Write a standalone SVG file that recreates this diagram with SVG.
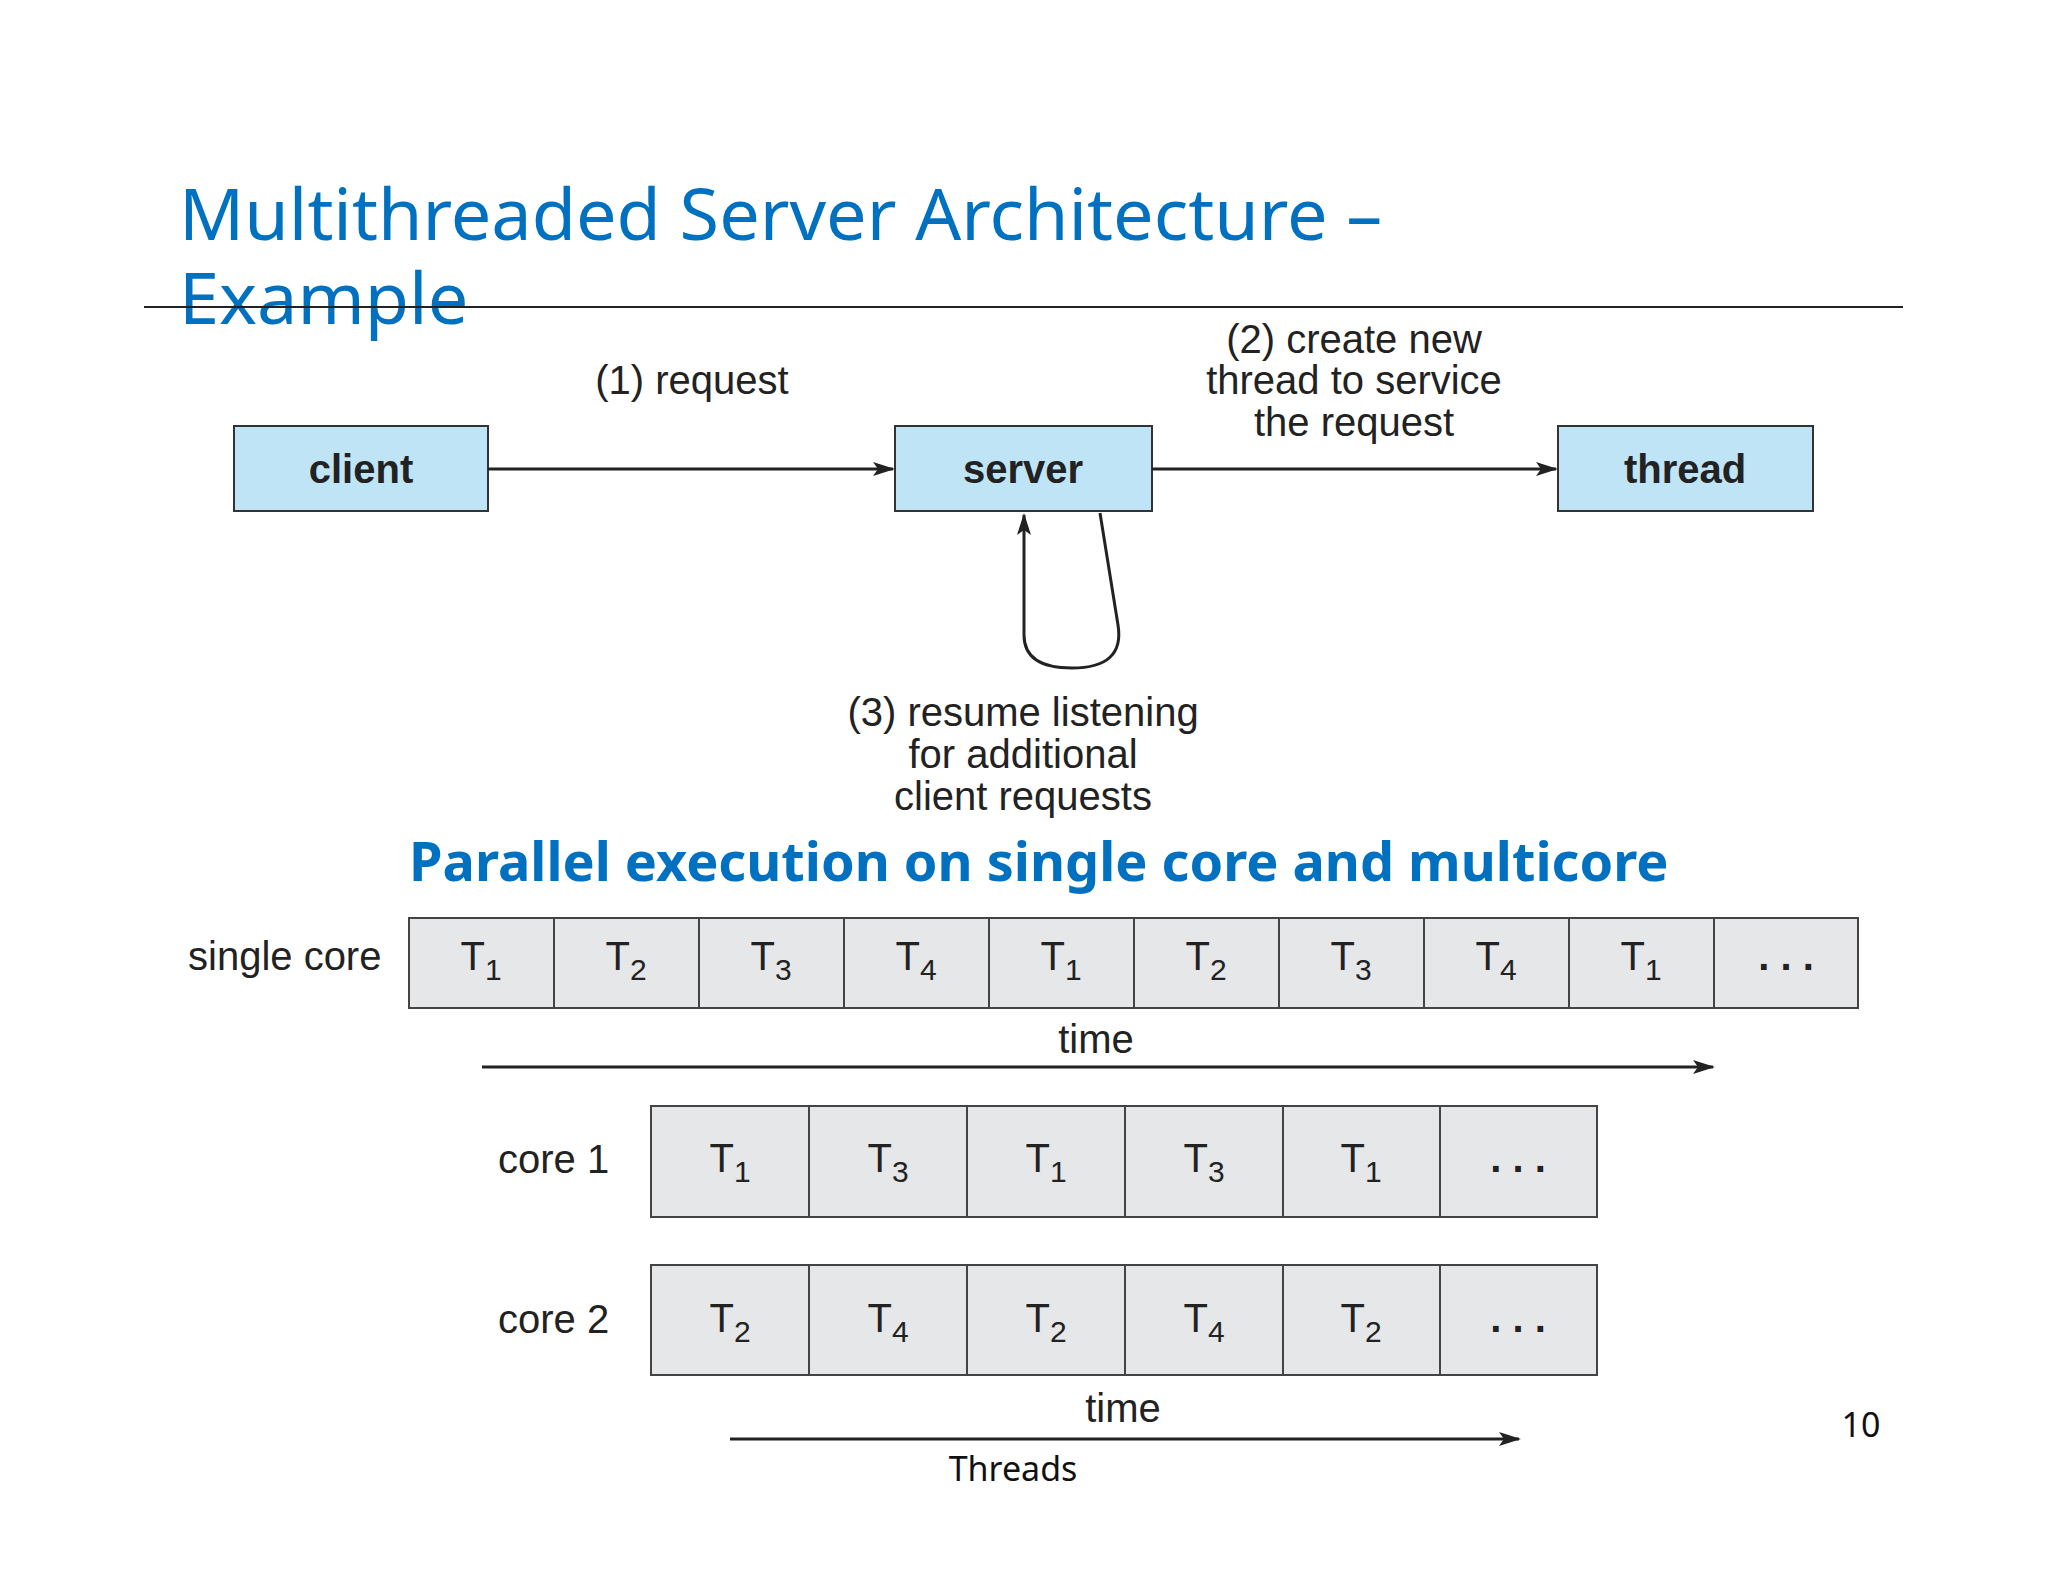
<svg xmlns="http://www.w3.org/2000/svg" width="2048" height="1582" viewBox="0 0 2048 1582">
<style>
.ttl{font-family:"Noto Sans","Open Sans",sans-serif;fill:#0070c0}
.lb{font-family:"Liberation Sans",Arial,sans-serif;fill:#222;font-size:40px}
.bx{fill:#bfe4f6;stroke:#333;stroke-width:2}
.bt{font-family:"Liberation Sans",Arial,sans-serif;font-weight:bold;font-size:40px;fill:#222;text-anchor:middle}
.cell{fill:#e6e7e9;stroke:#444;stroke-width:2}
.tl{font-family:"Liberation Sans",Arial,sans-serif;font-size:40px;fill:#222;text-anchor:middle}
.ln{stroke:#222;stroke-width:3;fill:none}
</style>
<defs>
<marker id="ah2" markerWidth="22" markerHeight="14" refX="20" refY="7" orient="auto" markerUnits="userSpaceOnUse"><path d="M0,0 L22,7 L0,14 L5,7 z" fill="#222"/></marker></defs>
<rect width="2048" height="1582" fill="#fff"/>
<text class="ttl" x="179" y="240" font-size="72">Multithreaded Server Architecture –</text>
<text class="ttl" x="179" y="324" font-size="72">Example</text>
<line x1="144" y1="307" x2="1903" y2="307" stroke="#222" stroke-width="2"/>
<g id="client"><rect class="bx" x="234" y="426" width="254" height="85"/><text class="bt" x="361" y="483">client</text></g>
<g id="server"><rect class="bx" x="895" y="426" width="257" height="85"/><text class="bt" x="1023" y="483">server</text></g>
<g id="thread"><rect class="bx" x="1558" y="426" width="255" height="85"/><text class="bt" x="1685" y="483">thread</text></g>
<g id="connectors">
<line class="ln" x1="488" y1="469" x2="893" y2="469" marker-end="url(#ah2)"/>
<line class="ln" x1="1152" y1="469" x2="1556" y2="469" marker-end="url(#ah2)"/>
<path class="ln" d="M1100,513 L1118,625 Q1125,668 1072,668 Q1024,668 1024,635 L1024,515" marker-end="url(#ah2)"/>
<line class="ln" x1="482" y1="1067" x2="1713" y2="1067" marker-end="url(#ah2)"/>
<line class="ln" x1="730" y1="1439" x2="1519" y2="1439" marker-end="url(#ah2)"/>
</g>
<text class="lb" x="692" y="394" text-anchor="middle" font-size="42">(1) request</text>
<text class="lb" text-anchor="middle" font-size="42"><tspan x="1354" y="353">(2) create new</tspan><tspan x="1354" y="394">thread to service</tspan><tspan x="1354" y="436">the request</tspan></text>
<text class="lb" text-anchor="middle" font-size="42"><tspan x="1023" y="726">(3) resume listening</tspan><tspan x="1023" y="768">for additional</tspan><tspan x="1023" y="810">client requests</tspan></text>
<text class="ttl" x="409" y="881" font-size="54" font-weight="bold">Parallel execution on single core and multicore</text>
<text class="lb" x="188" y="970" font-size="34">single core</text>
<g id="single">
<rect class="cell" x="409" y="918" width="145" height="90"/><rect class="cell" x="554" y="918" width="145" height="90"/><rect class="cell" x="699" y="918" width="145" height="90"/><rect class="cell" x="844" y="918" width="145" height="90"/><rect class="cell" x="989" y="918" width="145" height="90"/><rect class="cell" x="1134" y="918" width="145" height="90"/><rect class="cell" x="1279" y="918" width="145" height="90"/><rect class="cell" x="1424" y="918" width="145" height="90"/><rect class="cell" x="1569" y="918" width="145" height="90"/><rect class="cell" x="1714" y="918" width="144" height="90"/>
<text class="tl" x="481" y="970">T<tspan font-size="30" dy="10">1</tspan></text>
<text class="tl" x="626" y="970">T<tspan font-size="30" dy="10">2</tspan></text>
<text class="tl" x="771" y="970">T<tspan font-size="30" dy="10">3</tspan></text>
<text class="tl" x="916" y="970">T<tspan font-size="30" dy="10">4</tspan></text>
<text class="tl" x="1061" y="970">T<tspan font-size="30" dy="10">1</tspan></text>
<text class="tl" x="1206" y="970">T<tspan font-size="30" dy="10">2</tspan></text>
<text class="tl" x="1351" y="970">T<tspan font-size="30" dy="10">3</tspan></text>
<text class="tl" x="1496" y="970">T<tspan font-size="30" dy="10">4</tspan></text>
<text class="tl" x="1641" y="970">T<tspan font-size="30" dy="10">1</tspan></text>
<text class="tl" x="1786" y="970" font-weight="bold">. . .</text>
</g>
<text class="lb" x="1096" y="1053" font-size="34" text-anchor="middle">time</text>
<text class="lb" x="498" y="1173" font-size="36">core 1</text>
<g id="core1">
<rect class="cell" x="651" y="1106" width="158" height="111"/><rect class="cell" x="809" y="1106" width="158" height="111"/><rect class="cell" x="967" y="1106" width="158" height="111"/><rect class="cell" x="1125" y="1106" width="158" height="111"/><rect class="cell" x="1283" y="1106" width="157" height="111"/><rect class="cell" x="1440" y="1106" width="157" height="111"/>
<text class="tl" x="730" y="1172">T<tspan font-size="30" dy="10">1</tspan></text>
<text class="tl" x="888" y="1172">T<tspan font-size="30" dy="10">3</tspan></text>
<text class="tl" x="1046" y="1172">T<tspan font-size="30" dy="10">1</tspan></text>
<text class="tl" x="1204" y="1172">T<tspan font-size="30" dy="10">3</tspan></text>
<text class="tl" x="1361" y="1172">T<tspan font-size="30" dy="10">1</tspan></text>
<text class="tl" x="1518" y="1172" font-weight="bold">. . .</text>
</g>
<text class="lb" x="498" y="1333" font-size="36">core 2</text>
<g id="core2">
<rect class="cell" x="651" y="1265" width="158" height="110"/><rect class="cell" x="809" y="1265" width="158" height="110"/><rect class="cell" x="967" y="1265" width="158" height="110"/><rect class="cell" x="1125" y="1265" width="158" height="110"/><rect class="cell" x="1283" y="1265" width="157" height="110"/><rect class="cell" x="1440" y="1265" width="157" height="110"/>
<text class="tl" x="730" y="1332">T<tspan font-size="30" dy="10">2</tspan></text>
<text class="tl" x="888" y="1332">T<tspan font-size="30" dy="10">4</tspan></text>
<text class="tl" x="1046" y="1332">T<tspan font-size="30" dy="10">2</tspan></text>
<text class="tl" x="1204" y="1332">T<tspan font-size="30" dy="10">4</tspan></text>
<text class="tl" x="1361" y="1332">T<tspan font-size="30" dy="10">2</tspan></text>
<text class="tl" x="1518" y="1332" font-weight="bold">. . .</text>
</g>
<text class="lb" x="1123" y="1422" font-size="36" text-anchor="middle">time</text>
<text x="1013" y="1481" font-family="Noto Sans,sans-serif" font-size="34" fill="#111" text-anchor="middle">Threads</text>
<text x="1861" y="1437" font-family="Noto Sans,sans-serif" font-size="34" fill="#111" text-anchor="middle">10</text>
</svg>
